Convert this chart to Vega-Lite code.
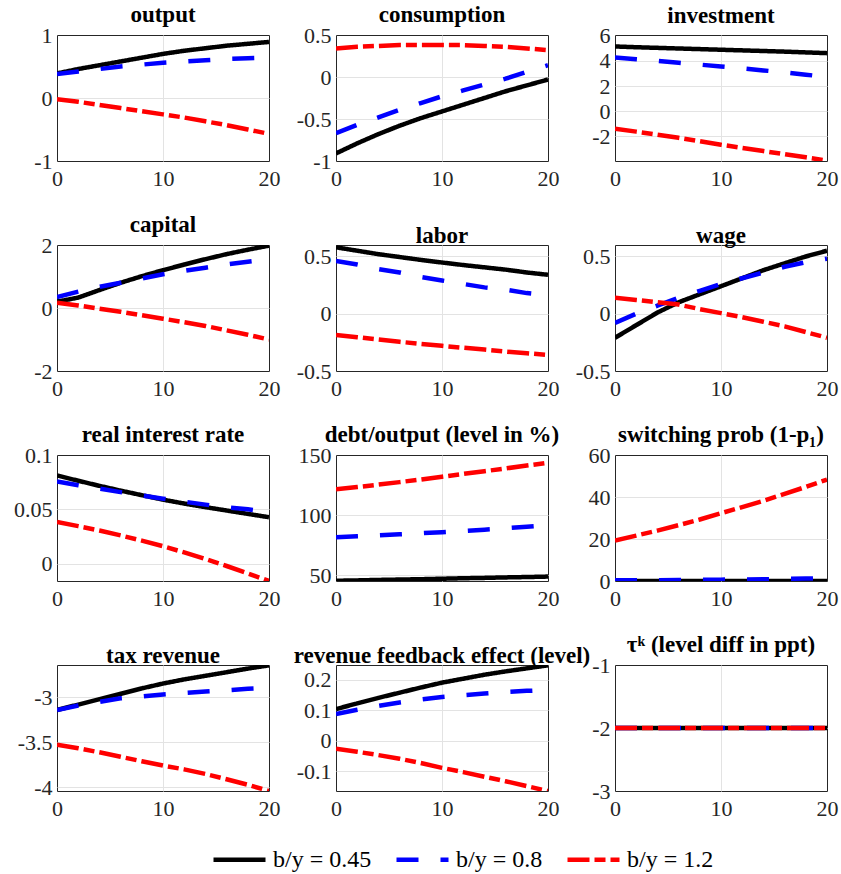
{
  "$schema": "https://vega.github.io/schema/vega-lite/v6.json",
  "padding": {"left": 13, "top": 3, "right": 5, "bottom": 4},
  "data": {"values": [
    {"p":"out","t":0,"a":0.39,"b":0.38,"c":-0.02},{"p":"out","t":2,"a":0.46,"b":0.42,"c":-0.06},{"p":"out","t":4,"a":0.52,"b":0.46,"c":-0.11},{"p":"out","t":6,"a":0.58,"b":0.50,"c":-0.16},{"p":"out","t":8,"a":0.64,"b":0.53,"c":-0.21},{"p":"out","t":10,"a":0.70,"b":0.56,"c":-0.26},{"p":"out","t":12,"a":0.75,"b":0.58,"c":-0.31},{"p":"out","t":14,"a":0.79,"b":0.60,"c":-0.37},{"p":"out","t":16,"a":0.83,"b":0.62,"c":-0.43},{"p":"out","t":18,"a":0.86,"b":0.63,"c":-0.50},{"p":"out","t":20,"a":0.89,"b":0.64,"c":-0.57},
    {"p":"con","t":0,"a":-0.91,"b":-0.67,"c":0.34},{"p":"con","t":2,"a":-0.79,"b":-0.57,"c":0.36},{"p":"con","t":4,"a":-0.68,"b":-0.48,"c":0.37},{"p":"con","t":6,"a":-0.58,"b":-0.39,"c":0.38},{"p":"con","t":8,"a":-0.49,"b":-0.31,"c":0.38},{"p":"con","t":10,"a":-0.41,"b":-0.23,"c":0.38},{"p":"con","t":12,"a":-0.33,"b":-0.16,"c":0.38},{"p":"con","t":14,"a":-0.25,"b":-0.09,"c":0.37},{"p":"con","t":16,"a":-0.17,"b":-0.02,"c":0.36},{"p":"con","t":18,"a":-0.10,"b":0.06,"c":0.34},{"p":"con","t":20,"a":-0.03,"b":0.14,"c":0.32},
    {"p":"inv","t":0,"a":5.14,"b":4.26,"c":-1.39},{"p":"inv","t":2,"a":5.08,"b":4.13,"c":-1.62},{"p":"inv","t":4,"a":5.03,"b":3.99,"c":-1.86},{"p":"inv","t":6,"a":4.98,"b":3.85,"c":-2.11},{"p":"inv","t":8,"a":4.93,"b":3.70,"c":-2.38},{"p":"inv","t":10,"a":4.88,"b":3.55,"c":-2.66},{"p":"inv","t":12,"a":4.83,"b":3.40,"c":-2.91},{"p":"inv","t":14,"a":4.78,"b":3.24,"c":-3.16},{"p":"inv","t":16,"a":4.73,"b":3.08,"c":-3.41},{"p":"inv","t":18,"a":4.67,"b":2.90,"c":-3.66},{"p":"inv","t":20,"a":4.61,"b":2.72,"c":-3.92},
    {"p":"cap","t":0,"a":0.20,"b":0.35,"c":0.17},{"p":"cap","t":2,"a":0.33,"b":0.52,"c":0.08},{"p":"cap","t":4,"a":0.57,"b":0.67,"c":-0.02},{"p":"cap","t":6,"a":0.80,"b":0.80,"c":-0.12},{"p":"cap","t":8,"a":1.01,"b":0.94,"c":-0.23},{"p":"cap","t":10,"a":1.20,"b":1.07,"c":-0.34},{"p":"cap","t":12,"a":1.38,"b":1.18,"c":-0.45},{"p":"cap","t":14,"a":1.55,"b":1.28,"c":-0.57},{"p":"cap","t":16,"a":1.71,"b":1.38,"c":-0.71},{"p":"cap","t":18,"a":1.85,"b":1.47,"c":-0.85},{"p":"cap","t":20,"a":1.98,"b":1.55,"c":-1.00},
    {"p":"lab","t":0,"a":0.58,"b":0.46,"c":-0.185},{"p":"lab","t":2,"a":0.55,"b":0.43,"c":-0.205},{"p":"lab","t":4,"a":0.52,"b":0.39,"c":-0.225},{"p":"lab","t":6,"a":0.495,"b":0.36,"c":-0.245},{"p":"lab","t":8,"a":0.47,"b":0.32,"c":-0.263},{"p":"lab","t":10,"a":0.447,"b":0.29,"c":-0.28},{"p":"lab","t":12,"a":0.425,"b":0.26,"c":-0.297},{"p":"lab","t":14,"a":0.405,"b":0.23,"c":-0.313},{"p":"lab","t":16,"a":0.385,"b":0.21,"c":-0.33},{"p":"lab","t":18,"a":0.36,"b":0.18,"c":-0.345},{"p":"lab","t":20,"a":0.34,"b":0.16,"c":-0.36},
    {"p":"wag","t":0,"a":-0.21,"b":-0.08,"c":0.14},{"p":"wag","t":2,"a":-0.10,"b":0.0,"c":0.12},{"p":"wag","t":4,"a":0.01,"b":0.07,"c":0.10},{"p":"wag","t":6,"a":0.10,"b":0.14,"c":0.08},{"p":"wag","t":8,"a":0.17,"b":0.20,"c":0.04},{"p":"wag","t":10,"a":0.24,"b":0.26,"c":0.005},{"p":"wag","t":12,"a":0.31,"b":0.31,"c":-0.03},{"p":"wag","t":14,"a":0.38,"b":0.36,"c":-0.07},{"p":"wag","t":16,"a":0.44,"b":0.41,"c":-0.11},{"p":"wag","t":18,"a":0.50,"b":0.45,"c":-0.16},{"p":"wag","t":20,"a":0.55,"b":0.48,"c":-0.21},
    {"p":"rir","t":0,"a":0.0812,"b":0.0756,"c":0.0383},{"p":"rir","t":2,"a":0.0763,"b":0.0722,"c":0.0345},{"p":"rir","t":4,"a":0.0716,"b":0.069,"c":0.0305},{"p":"rir","t":6,"a":0.0672,"b":0.0658,"c":0.026},{"p":"rir","t":8,"a":0.063,"b":0.0628,"c":0.0212},{"p":"rir","t":10,"a":0.0589,"b":0.0598,"c":0.016},{"p":"rir","t":12,"a":0.0553,"b":0.057,"c":0.0103},{"p":"rir","t":14,"a":0.052,"b":0.0543,"c":0.0042},{"p":"rir","t":16,"a":0.0489,"b":0.0518,"c":-0.0022},{"p":"rir","t":18,"a":0.0458,"b":0.05,"c":-0.009},{"p":"rir","t":20,"a":0.0427,"b":0.0475,"c":-0.016},
    {"p":"deb","t":0,"a":45.2,"b":81.4,"c":121.4},{"p":"deb","t":2,"a":45.5,"b":82.2,"c":123.3},{"p":"deb","t":4,"a":45.9,"b":83.0,"c":125.3},{"p":"deb","t":6,"a":46.2,"b":83.9,"c":127.4},{"p":"deb","t":8,"a":46.5,"b":84.8,"c":129.6},{"p":"deb","t":10,"a":46.9,"b":85.7,"c":131.9},{"p":"deb","t":12,"a":47.3,"b":86.7,"c":134.2},{"p":"deb","t":14,"a":47.6,"b":87.8,"c":136.5},{"p":"deb","t":16,"a":48.0,"b":88.9,"c":138.8},{"p":"deb","t":18,"a":48.3,"b":90.2,"c":141.2},{"p":"deb","t":20,"a":48.7,"b":91.5,"c":143.6},
    {"p":"swi","t":0,"a":0.05,"b":0.3,"c":19.2},{"p":"swi","t":2,"a":0.05,"b":0.35,"c":21.6},{"p":"swi","t":4,"a":0.05,"b":0.4,"c":24.0},{"p":"swi","t":6,"a":0.05,"b":0.5,"c":26.6},{"p":"swi","t":8,"a":0.05,"b":0.55,"c":29.3},{"p":"swi","t":10,"a":0.05,"b":0.65,"c":32.3},{"p":"swi","t":12,"a":0.05,"b":0.75,"c":35.2},{"p":"swi","t":14,"a":0.05,"b":0.85,"c":38.2},{"p":"swi","t":16,"a":0.05,"b":1.0,"c":41.5},{"p":"swi","t":18,"a":0.05,"b":1.15,"c":44.8},{"p":"swi","t":20,"a":0.05,"b":1.3,"c":48.3},
    {"p":"tax","t":0,"a":-3.14,"b":-3.14,"c":-3.525},{"p":"tax","t":2,"a":-3.08,"b":-3.09,"c":-3.565},{"p":"tax","t":4,"a":-3.02,"b":-3.05,"c":-3.61},{"p":"tax","t":6,"a":-2.96,"b":-3.01,"c":-3.66},{"p":"tax","t":8,"a":-2.90,"b":-2.99,"c":-3.71},{"p":"tax","t":10,"a":-2.846,"b":-2.967,"c":-3.757},{"p":"tax","t":12,"a":-2.80,"b":-2.95,"c":-3.80},{"p":"tax","t":14,"a":-2.76,"b":-2.935,"c":-3.85},{"p":"tax","t":16,"a":-2.72,"b":-2.92,"c":-3.91},{"p":"tax","t":18,"a":-2.68,"b":-2.905,"c":-3.97},{"p":"tax","t":20,"a":-2.644,"b":-2.895,"c":-4.04},
    {"p":"rev","t":0,"a":0.104,"b":0.088,"c":-0.026},{"p":"rev","t":2,"a":0.123,"b":0.102,"c":-0.036},{"p":"rev","t":4,"a":0.141,"b":0.115,"c":-0.047},{"p":"rev","t":6,"a":0.158,"b":0.126,"c":-0.059},{"p":"rev","t":8,"a":0.175,"b":0.136,"c":-0.073},{"p":"rev","t":10,"a":0.191,"b":0.144,"c":-0.089},{"p":"rev","t":12,"a":0.204,"b":0.150,"c":-0.103},{"p":"rev","t":14,"a":0.217,"b":0.155,"c":-0.118},{"p":"rev","t":16,"a":0.228,"b":0.160,"c":-0.133},{"p":"rev","t":18,"a":0.238,"b":0.164,"c":-0.149},{"p":"rev","t":20,"a":0.248,"b":0.167,"c":-0.165},
    {"p":"tau","t":0,"a":-2,"b":-2,"c":-2},{"p":"tau","t":2,"a":-2,"b":-2,"c":-2},{"p":"tau","t":4,"a":-2,"b":-2,"c":-2},{"p":"tau","t":6,"a":-2,"b":-2,"c":-2},{"p":"tau","t":8,"a":-2,"b":-2,"c":-2},{"p":"tau","t":10,"a":-2,"b":-2,"c":-2},{"p":"tau","t":12,"a":-2,"b":-2,"c":-2},{"p":"tau","t":14,"a":-2,"b":-2,"c":-2},{"p":"tau","t":16,"a":-2,"b":-2,"c":-2},{"p":"tau","t":18,"a":-2,"b":-2,"c":-2},{"p":"tau","t":20,"a":-2,"b":-2,"c":-2}
  ]},
  "transform": [{"fold": ["a", "b", "c"], "as": ["s", "v"]}],
  "columns": 3,
  "spacing": {"row": 84, "column": 67},
  "bounds": "flush",
  "concat": [
    {"title": "output", "transform": [{"filter": "datum.p == 'out'"}], "mark": {"type": "line", "clip": true, "strokeWidth": 4.5},
     "encoding": {"x": {"field": "t", "type": "quantitative", "scale": {"domain": [0, 20]}, "axis": {"values": [0, 10, 20], "title": null, "gridOpacity": {"condition": {"test": "datum.value == 10", "value": 1}, "value": 0}}},
      "y": {"field": "v", "type": "quantitative", "scale": {"domain": [-1, 1], "nice": false, "zero": false}, "axis": {"values": [-1, 0, 1], "title": null, "labelExpr": "'' + datum.value", "gridOpacity": {"condition": {"test": "datum.value == 0", "value": 1}, "value": 0}}},
      "color": {"field": "s", "type": "nominal", "scale": {"domain": ["a", "b", "c"], "range": ["#000000", "#0000ff", "#ff0000"]}, "legend": {"title": null, "labelExpr": "datum.label == 'a' ? 'b/y = 0.45' : datum.label == 'b' ? 'b/y = 0.8' : 'b/y = 1.2'"}},
      "strokeDash": {"field": "s", "type": "nominal", "scale": {"domain": ["a", "b", "c"], "range": [[1, 0], [22, 22], [22, 5, 11, 5]]}, "legend": {"title": null, "labelExpr": "datum.label == 'a' ? 'b/y = 0.45' : datum.label == 'b' ? 'b/y = 0.8' : 'b/y = 1.2'"}}}},
    {"title": "consumption", "transform": [{"filter": "datum.p == 'con'"}], "mark": {"type": "line", "clip": true, "strokeWidth": 4.5},
     "encoding": {"x": {"field": "t", "type": "quantitative", "scale": {"domain": [0, 20]}, "axis": {"values": [0, 10, 20], "title": null, "gridOpacity": {"condition": {"test": "datum.value == 10", "value": 1}, "value": 0}}},
      "y": {"field": "v", "type": "quantitative", "scale": {"domain": [-1, 0.5], "nice": false, "zero": false}, "axis": {"values": [-1, -0.5, 0, 0.5], "title": null, "labelExpr": "'' + datum.value", "gridOpacity": {"condition": {"test": "datum.value > -1 && datum.value < 0.5", "value": 1}, "value": 0}}},
      "color": {"field": "s", "type": "nominal"}, "strokeDash": {"field": "s", "type": "nominal"}}},
    {"title": "investment", "transform": [{"filter": "datum.p == 'inv'"}], "mark": {"type": "line", "clip": true, "strokeWidth": 4.5},
     "encoding": {"x": {"field": "t", "type": "quantitative", "scale": {"domain": [0, 20]}, "axis": {"values": [0, 10, 20], "title": null, "gridOpacity": {"condition": {"test": "datum.value == 10", "value": 1}, "value": 0}}},
      "y": {"field": "v", "type": "quantitative", "scale": {"domain": [-3.95, 6.05], "nice": false, "zero": false}, "axis": {"values": [-2, 0, 2, 4, 6], "title": null, "labelExpr": "'' + datum.value", "gridOpacity": {"condition": {"test": "datum.value < 6", "value": 1}, "value": 0}}},
      "color": {"field": "s", "type": "nominal"}, "strokeDash": {"field": "s", "type": "nominal"}}},
    {"title": "capital", "transform": [{"filter": "datum.p == 'cap'"}], "mark": {"type": "line", "clip": true, "strokeWidth": 4.5},
     "encoding": {"x": {"field": "t", "type": "quantitative", "scale": {"domain": [0, 20]}, "axis": {"values": [0, 10, 20], "title": null, "gridOpacity": {"condition": {"test": "datum.value == 10", "value": 1}, "value": 0}}},
      "y": {"field": "v", "type": "quantitative", "scale": {"domain": [-2, 2], "nice": false, "zero": false}, "axis": {"values": [-2, 0, 2], "title": null, "labelExpr": "'' + datum.value", "gridOpacity": {"condition": {"test": "datum.value == 0", "value": 1}, "value": 0}}},
      "color": {"field": "s", "type": "nominal"}, "strokeDash": {"field": "s", "type": "nominal"}}},
    {"title": "labor", "transform": [{"filter": "datum.p == 'lab'"}], "mark": {"type": "line", "clip": true, "strokeWidth": 4.5},
     "encoding": {"x": {"field": "t", "type": "quantitative", "scale": {"domain": [0, 20]}, "axis": {"values": [0, 10, 20], "title": null, "gridOpacity": {"condition": {"test": "datum.value == 10", "value": 1}, "value": 0}}},
      "y": {"field": "v", "type": "quantitative", "scale": {"domain": [-0.5, 0.6], "nice": false, "zero": false}, "axis": {"values": [-0.5, 0, 0.5], "title": null, "labelExpr": "'' + datum.value", "gridOpacity": {"condition": {"test": "datum.value > -0.5", "value": 1}, "value": 0}}},
      "color": {"field": "s", "type": "nominal"}, "strokeDash": {"field": "s", "type": "nominal"}}},
    {"title": "wage", "transform": [{"filter": "datum.p == 'wag'"}], "mark": {"type": "line", "clip": true, "strokeWidth": 4.5},
     "encoding": {"x": {"field": "t", "type": "quantitative", "scale": {"domain": [0, 20]}, "axis": {"values": [0, 10, 20], "title": null, "gridOpacity": {"condition": {"test": "datum.value == 10", "value": 1}, "value": 0}}},
      "y": {"field": "v", "type": "quantitative", "scale": {"domain": [-0.5, 0.6], "nice": false, "zero": false}, "axis": {"values": [-0.5, 0, 0.5], "title": null, "labelExpr": "'' + datum.value", "gridOpacity": {"condition": {"test": "datum.value > -0.5", "value": 1}, "value": 0}}},
      "color": {"field": "s", "type": "nominal"}, "strokeDash": {"field": "s", "type": "nominal"}}},
    {"title": "real interest rate", "transform": [{"filter": "datum.p == 'rir'"}], "mark": {"type": "line", "clip": true, "strokeWidth": 4.5},
     "encoding": {"x": {"field": "t", "type": "quantitative", "scale": {"domain": [0, 20]}, "axis": {"values": [0, 10, 20], "title": null, "gridOpacity": {"condition": {"test": "datum.value == 10", "value": 1}, "value": 0}}},
      "y": {"field": "v", "type": "quantitative", "scale": {"domain": [-0.016, 0.1], "nice": false, "zero": false}, "axis": {"values": [0, 0.05, 0.1], "title": null, "labelExpr": "'' + datum.value", "gridOpacity": {"condition": {"test": "datum.value < 0.1", "value": 1}, "value": 0}}},
      "color": {"field": "s", "type": "nominal"}, "strokeDash": {"field": "s", "type": "nominal"}}},
    {"title": "debt/output (level in %)", "transform": [{"filter": "datum.p == 'deb'"}], "mark": {"type": "line", "clip": true, "strokeWidth": 4.5},
     "encoding": {"x": {"field": "t", "type": "quantitative", "scale": {"domain": [0, 20]}, "axis": {"values": [0, 10, 20], "title": null, "gridOpacity": {"condition": {"test": "datum.value == 10", "value": 1}, "value": 0}}},
      "y": {"field": "v", "type": "quantitative", "scale": {"domain": [45, 150], "nice": false, "zero": false}, "axis": {"values": [50, 100, 150], "title": null, "labelExpr": "'' + datum.value", "gridOpacity": {"condition": {"test": "datum.value < 150", "value": 1}, "value": 0}}},
      "color": {"field": "s", "type": "nominal"}, "strokeDash": {"field": "s", "type": "nominal"}}},
    {"title": "switching prob (1-p₁)", "transform": [{"filter": "datum.p == 'swi'"}], "mark": {"type": "line", "clip": true, "strokeWidth": 4.5},
     "encoding": {"x": {"field": "t", "type": "quantitative", "scale": {"domain": [0, 20]}, "axis": {"values": [0, 10, 20], "title": null, "gridOpacity": {"condition": {"test": "datum.value == 10", "value": 1}, "value": 0}}},
      "y": {"field": "v", "type": "quantitative", "scale": {"domain": [0, 60], "nice": false, "zero": false}, "axis": {"values": [0, 20, 40, 60], "title": null, "labelExpr": "'' + datum.value", "gridOpacity": {"condition": {"test": "datum.value > 0 && datum.value < 60", "value": 1}, "value": 0}}},
      "color": {"field": "s", "type": "nominal"}, "strokeDash": {"field": "s", "type": "nominal"}}},
    {"title": "tax revenue", "transform": [{"filter": "datum.p == 'tax'"}], "mark": {"type": "line", "clip": true, "strokeWidth": 4.5},
     "encoding": {"x": {"field": "t", "type": "quantitative", "scale": {"domain": [0, 20]}, "axis": {"values": [0, 10, 20], "title": null, "gridOpacity": {"condition": {"test": "datum.value == 10", "value": 1}, "value": 0}}},
      "y": {"field": "v", "type": "quantitative", "scale": {"domain": [-4.04, -2.64], "nice": false, "zero": false}, "axis": {"values": [-4, -3.5, -3], "title": null, "labelExpr": "'' + datum.value"}},
      "color": {"field": "s", "type": "nominal"}, "strokeDash": {"field": "s", "type": "nominal"}}},
    {"title": "revenue feedback effect (level)", "transform": [{"filter": "datum.p == 'rev'"}], "mark": {"type": "line", "clip": true, "strokeWidth": 4.5},
     "encoding": {"x": {"field": "t", "type": "quantitative", "scale": {"domain": [0, 20]}, "axis": {"values": [0, 10, 20], "title": null, "gridOpacity": {"condition": {"test": "datum.value == 10", "value": 1}, "value": 0}}},
      "y": {"field": "v", "type": "quantitative", "scale": {"domain": [-0.165, 0.249], "nice": false, "zero": false}, "axis": {"values": [-0.1, 0, 0.1, 0.2], "title": null, "labelExpr": "'' + datum.value"}},
      "color": {"field": "s", "type": "nominal"}, "strokeDash": {"field": "s", "type": "nominal"}}},
    {"title": "τᵏ (level diff in ppt)", "transform": [{"filter": "datum.p == 'tau'"}], "mark": {"type": "line", "clip": true, "strokeWidth": 4.5},
     "encoding": {"x": {"field": "t", "type": "quantitative", "scale": {"domain": [0, 20]}, "axis": {"values": [0, 10, 20], "title": null, "gridOpacity": {"condition": {"test": "datum.value == 10", "value": 1}, "value": 0}}},
      "y": {"field": "v", "type": "quantitative", "scale": {"domain": [-3, -1], "nice": false, "zero": false}, "axis": {"values": [-3, -2, -1], "title": null, "labelExpr": "'' + datum.value", "gridOpacity": {"condition": {"test": "datum.value == -2", "value": 1}, "value": 0}}},
      "color": {"field": "s", "type": "nominal"}, "strokeDash": {"field": "s", "type": "nominal"}}}
  ],
  "resolve": {"scale": {"x": "independent", "y": "independent"}},
  "config": {
    "font": "Times New Roman, Liberation Serif, serif",
    "view": {"continuousWidth": 212, "continuousHeight": 126, "stroke": "#262626", "strokeWidth": 1},
    "axis": {"labelFont": "Times New Roman, Liberation Serif, serif", "labelFontSize": 22, "labelColor": "#262626", "domain": false, "ticks": false, "grid": true, "gridColor": "#e3e3e3", "gridWidth": 1, "labelPadding": 5, "labelFlush": false, "labelOverlap": false},
    "axisX": {"labelPadding": 7, "labelFont": "Times New Roman, Liberation Serif, serif"},
    "axisY": {"labelFont": "Times New Roman, Liberation Serif, serif"},
    "style": {"guide-label": {"font": "Times New Roman, Liberation Serif, serif"}, "group-title": {"font": "Times New Roman, Liberation Serif, serif"}},
    "title": {"font": "Times New Roman, Liberation Serif, serif", "fontSize": 23, "fontWeight": "bold", "color": "#000000", "offset": -3},
    "legend": {"orient": "none", "legendX": 154, "legendY": 796, "direction": "horizontal", "columns": 3, "symbolType": "stroke", "symbolSize": 2704, "symbolStrokeWidth": 4.5, "labelFont": "Times New Roman, Liberation Serif, serif", "labelFontSize": 24, "labelColor": "#000000", "labelOffset": 5, "columnPadding": 15, "padding": 0}
  }
}
